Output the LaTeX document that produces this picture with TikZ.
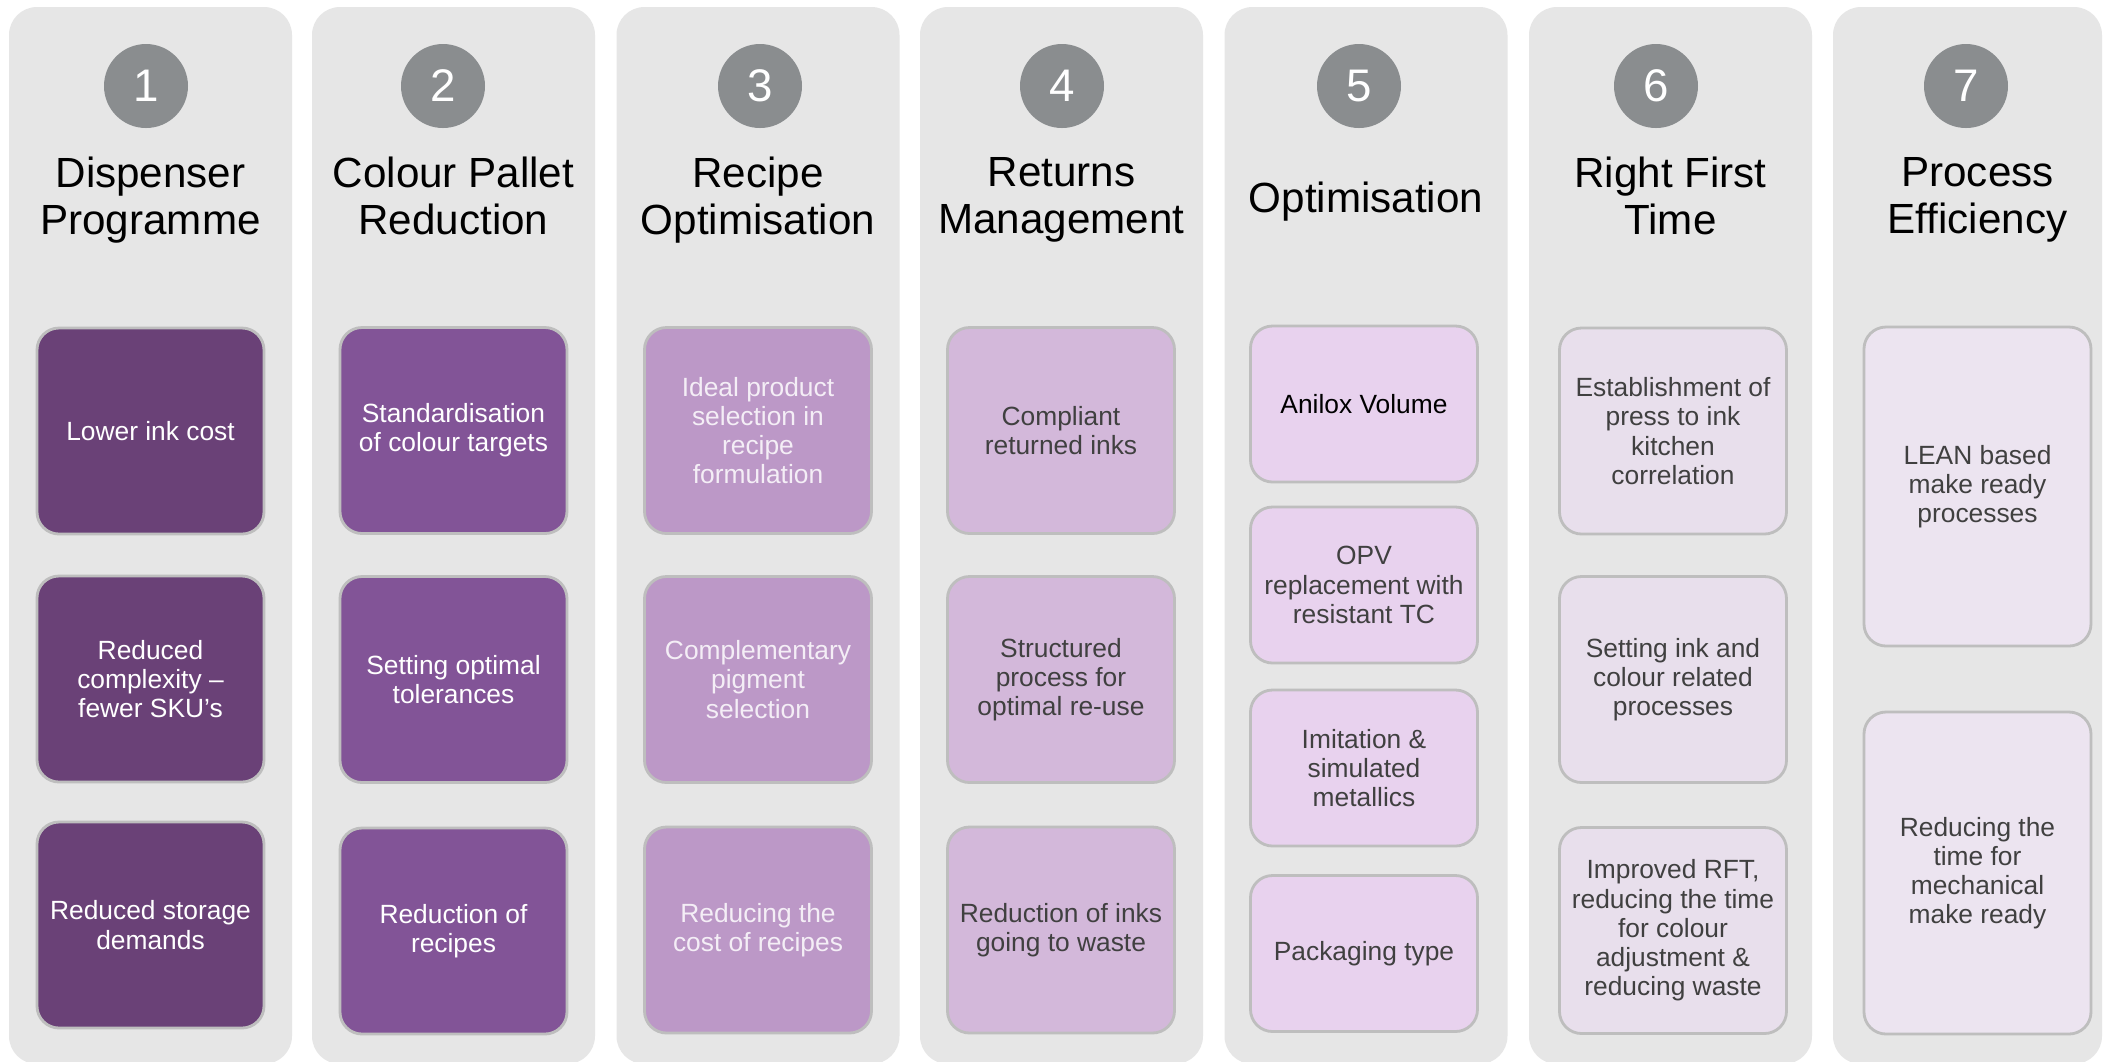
\documentclass[tikz,border=0pt]{standalone}
\usepackage{fontspec}
\setmainfont{Liberation Sans}
\definecolor{panelgrey}{HTML}{E6E6E6}
\definecolor{numgrey}{HTML}{8A8D8F}
\definecolor{edgegrey}{HTML}{BEBEBE}
\definecolor{plumA}{HTML}{6A4177}
\definecolor{plumB}{HTML}{825497}
\definecolor{plumC}{HTML}{BC98C7}
\definecolor{plumD}{HTML}{D3B8DA}
\definecolor{plumE}{HTML}{E8D2EE}
\definecolor{plumF}{HTML}{E8DFEC}
\definecolor{plumG}{HTML}{ECE4F0}
\definecolor{darktext}{HTML}{404040}
\definecolor{palewhite}{HTML}{F4EEF6}

\begin{document}
\begin{tikzpicture}[panel/.style = {fill=panelgrey, rounded corners=2.8mm, minimum width=2.83cm, minimum height=10.57cm, inner sep=0},
  num/.style = {circle, fill=numgrey, text=white, minimum size=8.4mm, inner sep=0, font=\fontsize{13}{13}\selectfont},
  head/.style = {align=center, inner sep=0, font=\fontsize{12}{13.3}\selectfont, execute at begin node=\strut, execute at end node=\strut},
  item/.style = {draw=edgegrey, line width=0.8pt, rounded corners=2.2mm, minimum width=2.27cm, inner sep=0, align=center, font=\fontsize{7.5}{8.3}\selectfont},
  tall/.style = {item, minimum height=2.06cm},
  short/.style = {item, minimum height=1.56cm}]
           \useasboundingbox (0,0) rectangle (21.03,-10.61);
           \fill[white] (0,0) rectangle (21.03,-10.61);
           \clip (0,0) rectangle (21.03,-10.61);

           \node[panel] (p1) at (1.505,-5.355)  {};
           \node[panel] (p2) at (4.535,-5.355)  {};
           \node[panel] (p3) at (7.580,-5.355)  {};
           \node[panel] (p4) at (10.615,-5.355) {};
           \node[panel] (p5) at (13.660,-5.355) {};
           \node[panel] (p6) at (16.705,-5.355) {};
           \node[panel, minimum width=2.69cm] (p7) at (19.675,-5.355) {};

           \node[num] (n1) at (1.46,-0.86)  {1};
           \node[num] (n2) at (4.43,-0.86)  {2};
           \node[num] (n3) at (7.60,-0.86)  {3};
           \node[num] (n4) at (10.62,-0.86) {4};
           \node[num] (n5) at (13.59,-0.86) {5};
           \node[num] (n6) at (16.56,-0.86) {6};
           \node[num] (n7) at (19.66,-0.86) {7};

           \node[head] (t1) at (1.505,-2.025)  {Dispenser\\Programme};
           \node[head] (t2) at (4.535,-2.025)  {Colour Pallet\\Reduction};
           \node[head] (t3) at (7.580,-2.025)  {Recipe\\Optimisation};
           \node[head] (t4) at (10.615,-2.025) {Returns\\Management};
           \node[head] (t5) at (13.660,-2.03)  {Optimisation};
           \node[head] (t6) at (16.705,-2.025) {Right First\\Time};
           \node[head] (t7) at (19.775,-2.025) {Process\\Efficiency};

           \node[tall, fill=plumA, text=white] (b11) at (1.505,-4.31) {Lower ink cost};
           \node[tall, fill=plumA, text=white] (b12) at (1.505,-6.79) {Reduced\\complexity –\\fewer SKU’s};
           \node[tall, fill=plumA, text=white] (b13) at (1.505,-9.25) {Reduced storage\\demands};

           \node[tall, fill=plumB, text=white] (b21) at (4.535,-4.305) {Standardisation\\of colour targets};
           \node[tall, fill=plumB, text=white] (b22) at (4.535,-6.795) {Setting optimal\\tolerances};
           \node[tall, fill=plumB, text=white] (b23) at (4.535,-9.31)  {Reduction of\\recipes};

           \node[tall, fill=plumC, text=palewhite] (b31) at (7.58,-4.305) {Ideal product\\selection in\\recipe\\formulation};
           \node[tall, fill=plumC, text=palewhite] (b32) at (7.58,-6.795) {Complementary\\pigment\\selection};
           \node[tall, fill=plumC, text=palewhite] (b33) at (7.58,-9.30)  {Reducing the\\cost of recipes};

           \node[tall, fill=plumD, text=darktext] (b41) at (10.61,-4.305) {Compliant\\returned inks};
           \node[tall, fill=plumD, text=darktext] (b42) at (10.61,-6.795) {Structured\\process for\\optimal re-use};
           \node[tall, fill=plumD, text=darktext] (b43) at (10.61,-9.30)  {Reduction of inks\\going to waste};

           \node[short, fill=plumE, text=black]    (b51) at (13.64,-4.04)  {Anilox Volume};
           \node[short, fill=plumE, text=darktext] (b52) at (13.64,-5.85)  {OPV\\replacement with\\resistant TC};
           \node[short, fill=plumE, text=darktext] (b53) at (13.64,-7.68)  {Imitation \&\\simulated\\metallics};
           \node[short, fill=plumE, text=darktext] (b54) at (13.64,-9.535) {Packaging type};

           \node[tall, fill=plumF, text=darktext] (b61) at (16.73,-4.31)  {Establishment of\\press to ink\\kitchen\\correlation};
           \node[tall, fill=plumF, text=darktext] (b62) at (16.73,-6.795) {Setting ink and\\colour related\\processes};
           \node[tall, fill=plumF, text=darktext] (b63) at (16.73,-9.305) {Improved RFT,\\reducing the time\\for colour\\adjustment \&\\reducing waste};

           \node[item, fill=plumG, text=darktext, minimum height=3.19cm] (b71) at (19.775,-4.865) {LEAN based\\make ready\\processes};
           \node[item, fill=plumG, text=darktext, minimum height=3.22cm] (b72) at (19.775,-8.73)  {Reducing the\\time for\\mechanical\\make ready};
         \end{tikzpicture}
\end{document}
